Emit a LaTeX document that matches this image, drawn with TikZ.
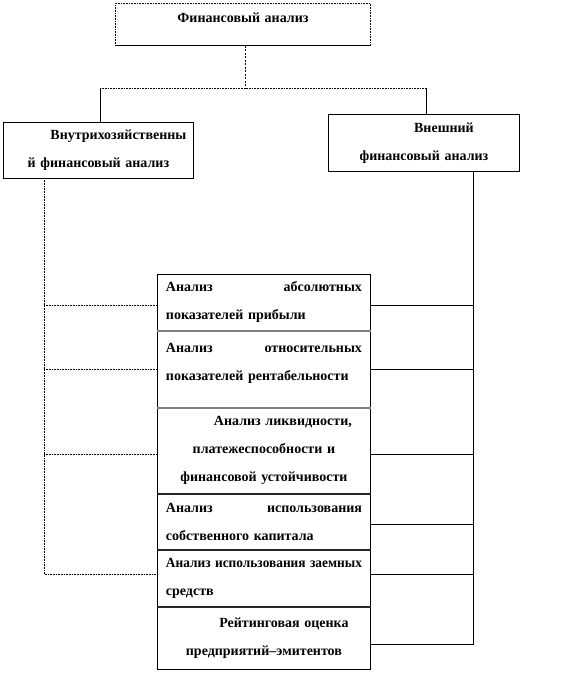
\documentclass[tikz,border=0pt]{standalone}
\usepackage{fontspec}
\setmainfont{Liberation Serif}
\newcommand{\jline}[1]{\hbox to 196pt{\spaceskip=0.12em plus 1fil\relax #1}}
\begin{document}
\begin{tikzpicture}[x=1pt,y=-1pt,
  box/.style={draw, line width=0.9pt, inner sep=0pt, anchor=north west,
    font=\bfseries\fontsize{14}{28}\selectfont},
  ld/.style={line width=1pt, dash pattern=on 0.8pt off 0.8pt},
  rl/.style={line width=0.9pt},
  sepg/.style={line width=1.5pt, gray},
  sepd/.style={line width=1.5pt, black!85}]
\useasboundingbox (0,0) rectangle (584,673);
% top
\node[box, dash pattern=on 0.8pt off 0.8pt, minimum width=255pt, minimum height=42pt, text width=245pt, align=center] (top) at (115,3) {Финансовый анализ\\[-14pt]\mbox{}};
\draw[rl] (top.south west) -- (top.south east);
\node[box, minimum width=190pt, minimum height=56pt, text width=184pt, align=center] (left) at (3,122) {\hspace*{40pt}Внутрихозяйственны\\й финансовый анализ};
\node[box, minimum width=191pt, minimum height=57pt, text width=184pt, align=center] (right) at (328,114) {\hspace*{40pt}Внешний\\финансовый анализ};
% stack
\node[box, minimum width=213pt, minimum height=56pt, text width=196pt, align=left] (b1) at (157,274) {\jline{Анализ абсолютных}\\показателей прибыли};
\node[box, minimum width=213pt, minimum height=77pt, text width=196pt, align=left] (b2) at (157,330) {\jline{Анализ относительных}\\показателей рентабельности\\[-14pt]\mbox{}};
\node[box, minimum width=213pt, minimum height=86pt, text width=196pt, align=center] (b3) at (157,407) {\hspace*{38pt}Анализ ликвидности,\\платежеспособности и\\финансовой устойчивости};
\node[box, minimum width=213pt, minimum height=56pt, text width=196pt, align=left] (b4) at (157,493) {\jline{Анализ использования}\\собственного капитала};
\node[box, minimum width=213pt, minimum height=57pt, text width=196pt, align=left] (b5) at (157,549) {\resizebox{196pt}{\height}{Анализ использования заемных}\\средств};
\node[box, minimum width=213pt, minimum height=63pt, text width=196pt, align=center] (b6) at (157,606) {\hspace*{40pt}Рейтинговая оценка\\предприятий–эмитентов};
% separators
\draw[sepg] (b1.south west) -- (b1.south east);
\draw[sepg] (b2.south west) -- (b2.south east);
\draw[sepd] (b3.south west) -- (b3.south east);
\draw[sepd] (b4.south west) -- (b4.south east);
\draw[sepd] (b5.south west) -- (b5.south east);
% top connectors
\coordinate (hub) at (245,88);
\coordinate (hL) at (100,88);
\coordinate (hR) at (426,88);
\draw[line width=1pt, dash pattern=on 2pt off 1.5pt] (hub |- top.south) -- (hub);
\draw[ld] (hL) -- (hR);
\draw[rl] (hL) -- (hL |- left.north);
\draw[rl] (hR) -- (hR |- right.north);
% y levels
\coordinate (y1) at (0,305);
\coordinate (y2) at (0,369);
\coordinate (y3) at (0,454);
\coordinate (y4) at (0,524);
\coordinate (y5) at (0,574);
\coordinate (y6) at (0,644);
% left branch
\coordinate (lv) at (44,178);
\draw[ld] (lv) -- (lv |- y5) -- (b5.west |- y5);
\draw[ld] (lv |- y1) -- (b1.west |- y1);
\draw[ld] (lv |- y2) -- (b1.west |- y2);
\draw[ld] (lv |- y3) -- (b1.west |- y3);
% right branch
\coordinate (rv) at (473,171);
\draw[rl] (rv) -- (rv |- y6) -- (b6.east |- y6);
\draw[rl] (rv |- y1) -- (b1.east |- y1);
\draw[rl] (rv |- y2) -- (b1.east |- y2);
\draw[rl] (rv |- y3) -- (b1.east |- y3);
\draw[rl] (rv |- y4) -- (b1.east |- y4);
\draw[rl] (rv |- y5) -- (b1.east |- y5);
\end{tikzpicture}
\end{document}
